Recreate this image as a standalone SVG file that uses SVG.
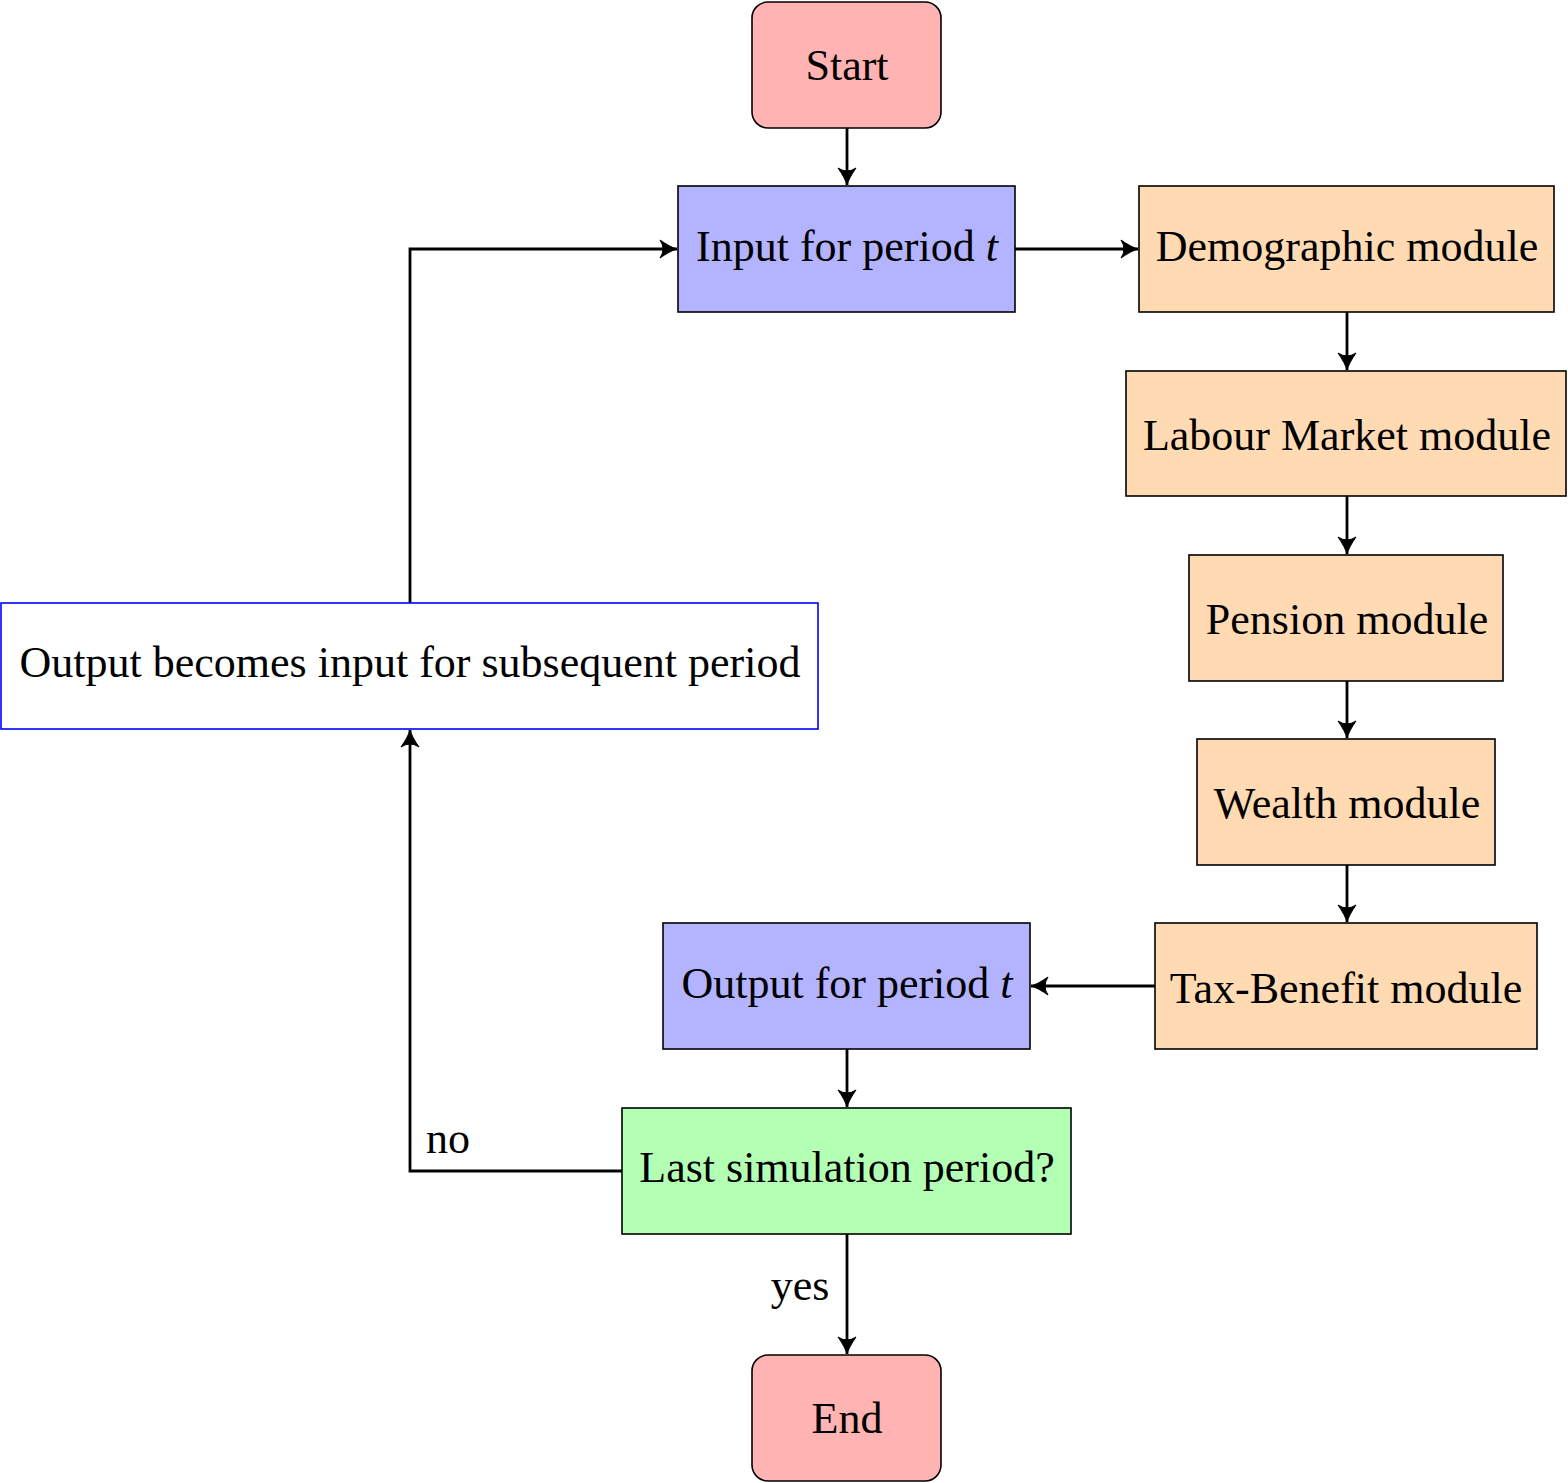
<svg xmlns="http://www.w3.org/2000/svg" width="1568" height="1483" viewBox="0 0 1568 1483">
<style>
.box{stroke:#000;stroke-width:1.6}
.red{fill:#ffb3b3}
.blue{fill:#b3b3ff}
.orange{fill:#ffdab3}
.green{fill:#b3ffb3}
.white{fill:#fff;stroke:#0000ff;stroke-width:1.6}
text{font-family:"Liberation Serif","Times New Roman",serif;font-size:44px;fill:#000}
.c{text-anchor:middle}
.conn{fill:none;stroke:#000;stroke-width:2.8}
</style>
<defs>
<marker id="arr" viewBox="-19 -11 20 22" markerWidth="20" markerHeight="22" refX="0" refY="0" orient="auto" markerUnits="userSpaceOnUse">
<path d="M-17,-9 Q-7,-2 0,0 Q-7,2 -17,9 Q-11,0 -17,-9 Z" fill="#000" stroke="#000" stroke-width="1" stroke-linejoin="round"/>
</marker>
</defs>
<rect width="1568" height="1483" fill="#fff"/>
<g id="connectors">
<path class="conn" d="M847,128 V185" marker-end="url(#arr)"/>
<path class="conn" d="M1015,249 H1138" marker-end="url(#arr)"/>
<path class="conn" d="M1347,312 V370" marker-end="url(#arr)"/>
<path class="conn" d="M1347,496 V554" marker-end="url(#arr)"/>
<path class="conn" d="M1347,681 V738" marker-end="url(#arr)"/>
<path class="conn" d="M1347,865 V922" marker-end="url(#arr)"/>
<path class="conn" d="M1155,986 H1031" marker-end="url(#arr)"/>
<path class="conn" d="M847,1049 V1107" marker-end="url(#arr)"/>
<path class="conn" d="M847,1234 V1354" marker-end="url(#arr)"/>
<path class="conn" d="M622,1171 H410 V730" marker-end="url(#arr)"/>
<path class="conn" d="M410,603 V249 H677" marker-end="url(#arr)"/>
<text x="448" y="1153" class="c">no</text>
<text x="800" y="1300" class="c">yes</text>
</g>
<g id="start">
<rect class="box red" x="752" y="2" width="189" height="126" rx="16"/>
<text x="847" y="80" class="c">Start</text>
</g>
<g id="input">
<rect class="box blue" x="678" y="186" width="337" height="126"/>
<text x="847" y="261" class="c">Input for period <tspan font-style="italic">t</tspan></text>
</g>
<g id="demographic">
<rect class="box orange" x="1139" y="186" width="415" height="126"/>
<text x="1347" y="261" class="c">Demographic module</text>
</g>
<g id="labour">
<rect class="box orange" x="1126" y="371" width="440" height="125"/>
<text x="1347" y="450" class="c">Labour Market module</text>
</g>
<g id="pension">
<rect class="box orange" x="1189" y="555" width="314" height="126"/>
<text x="1347" y="634" class="c">Pension module</text>
</g>
<g id="wealth">
<rect class="box orange" x="1197" y="739" width="298" height="126"/>
<text x="1347" y="818" class="c">Wealth module</text>
</g>
<g id="taxbenefit">
<rect class="box orange" x="1155" y="923" width="382" height="126"/>
<text x="1346" y="1003" class="c">Tax-Benefit module</text>
</g>
<g id="output">
<rect class="box blue" x="663" y="923" width="367" height="126"/>
<text x="847" y="998" class="c">Output for period <tspan font-style="italic">t</tspan></text>
</g>
<g id="last">
<rect class="box green" x="622" y="1108" width="449" height="126"/>
<text x="847" y="1182" class="c">Last simulation period?</text>
</g>
<g id="end">
<rect class="box red" x="752" y="1355" width="189" height="126" rx="16"/>
<text x="847" y="1433" class="c">End</text>
</g>
<g id="feedback">
<rect class="white" x="1" y="603" width="817" height="126"/>
<text x="410" y="677" class="c">Output becomes input for subsequent period</text>
</g>
</svg>
